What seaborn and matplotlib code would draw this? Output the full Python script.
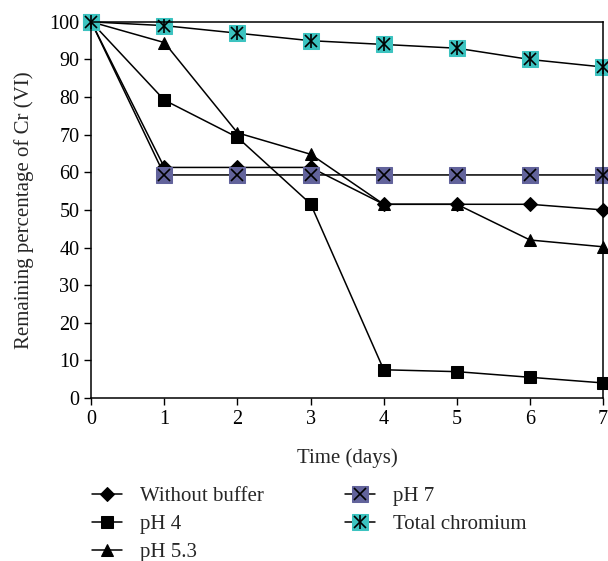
import numpy as np
import pandas as pd
import seaborn as sns
import matplotlib.pyplot as plt

# data
days = [0, 1, 2, 3, 4, 5, 6, 7]
without_buffer = [100, 61.3, 61.3, 61.3, 51.5, 51.5, 51.5, 50.0]
ph4 = [100, 79.2, 69.3, 51.6, 7.5, 7.0, 5.5, 4.0]
ph53 = [100, 94.5, 70.5, 64.8, 51.5, 51.5, 42.0, 40.2]
ph7 = [100, 59.3, 59.3, 59.3, 59.3, 59.3, 59.3, 59.3]
total_cr = [100, 99.0, 97.0, 95.0, 94.0, 93.0, 90.0, 88.0]

sns.set_theme(style="ticks")
plt.rcParams["font.family"] = ["Liberation Serif", "DejaVu Serif"]

fig = plt.figure(figsize=(6.08, 5.61), dpi=100)
ax = fig.add_axes([0.150, 0.2906, 0.842, 0.6704])

common = dict(color="black", linewidth=1.1, clip_on=False, ax=ax)

l1 = sns.lineplot(x=days, y=without_buffer, marker="D", markersize=7,
                  markerfacecolor="black", markeredgecolor="black", **common).lines[-1]
l2 = sns.lineplot(x=days, y=ph4, marker="s", markersize=8,
                  markerfacecolor="black", markeredgecolor="black", **common).lines[-1]
l3 = sns.lineplot(x=days, y=ph53, marker="^", markersize=9,
                  markerfacecolor="black", markeredgecolor="black", **common).lines[-1]
l4 = sns.lineplot(x=days, y=ph7, marker="s", markersize=12,
                  markerfacecolor="#62639b", markeredgecolor="#62639b", **common).lines[-1]
x4 = ax.plot(days, ph7, linestyle="none", marker="x", markersize=9, color="black",
             markeredgewidth=1.2, clip_on=False)[0]
l5 = sns.lineplot(x=days, y=total_cr, marker="s", markersize=12,
                  markerfacecolor="#3cc3c0", markeredgecolor="#3cc3c0", **common).lines[-1]
x5a = ax.plot(days, total_cr, linestyle="none", marker="x", markersize=9, color="black",
              markeredgewidth=1.2, clip_on=False)[0]
x5b = ax.plot(days, total_cr, linestyle="none", marker="|", markersize=10, color="black",
              markeredgewidth=1.2, clip_on=False)[0]

ax.set_xlim(0, 7)
ax.set_ylim(0, 100)
ax.set_xticks(days)
ax.set_yticks(range(0, 101, 10))
ax.tick_params(labelsize=14.5, direction="out", length=5, width=1, colors="black")
ax.set_xlabel("Time (days)", fontsize=15, labelpad=14)
ax.set_ylabel("Remaining percentage of Cr (VI)", fontsize=15, labelpad=11)
for side in ["left", "bottom", "top", "right"]:
    ax.spines[side].set_color("black")
    ax.spines[side].set_linewidth(1.1)

handles = [l1, l2, l3, (l4, x4), (l5, x5a, x5b)]
labels = ["Without buffer", "pH 4", "pH 5.3", "pH 7", "Total chromium"]
fig.legend(handles, labels, loc="upper left", bbox_to_anchor=(0.151, 0.133),
           ncol=2, frameon=False, fontsize=15, handlelength=1.45,
           columnspacing=3.9, labelspacing=0.4, handletextpad=0.85,
           borderaxespad=0, borderpad=0)

fig.savefig("out.png", dpi=100)
